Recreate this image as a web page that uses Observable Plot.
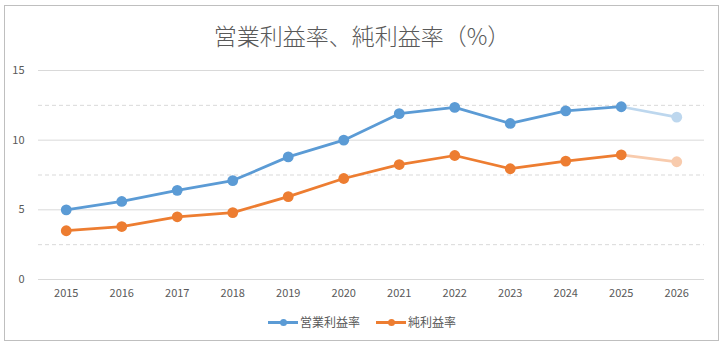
<!DOCTYPE html>
<html>
<head>
<meta charset="utf-8">
<script src="https://cdn.jsdelivr.net/npm/d3@7"></script>
<script src="https://cdn.jsdelivr.net/npm/@observablehq/plot@0.6"></script>
<style>
  html, body { margin: 0; padding: 0; background: #fff; }
  #wrap { position: relative; width: 724px; height: 348px; font-family: "Noto Sans CJK JP", "Noto Sans", sans-serif; }
  #frame { position: absolute; left: 4px; top: 5px; width: 713px; height: 334px; border: 1px solid #bfbfbf; box-sizing: content-box; }
  #title { position: absolute; left: 0; width: 724px; top: 20px; text-align: center; font-size: 23px; font-weight: 300; color: #595959; line-height: 30px; }
  #chart { position: absolute; left: 0; top: 0; }
  #legend { position: absolute; left: 0; width: 724px; top: 312px; display: flex; justify-content: center; gap: 16px; font-size: 12px; color: #595959; line-height: 20px; }
  .item { display: flex; align-items: center; }
  .sw { position: relative; width: 30px; height: 20px; margin-right: 2px; }
  .sw .ln { position: absolute; left: 0; right: 0; top: 9px; height: 3px; }
  .sw .dt { position: absolute; left: 12px; top: 7px; width: 7px; height: 7px; border-radius: 50%; }
</style>
</head>
<body>
<div id="wrap">
  <div id="frame"></div>
  <div id="chart"></div>
  <div id="title">営業利益率、純利益率（%）</div>
  <div id="legend"></div>
</div>
<script>
const years = ["2015","2016","2017","2018","2019","2020","2021","2022","2023","2024","2025","2026"];
const operatingMargin = [5.0, 5.6, 6.4, 7.1, 8.8, 10.0, 11.9, 12.35, 11.2, 12.1, 12.4, 11.65];
const netMargin = [3.5, 3.8, 4.5, 4.8, 5.95, 7.25, 8.25, 8.9, 7.95, 8.5, 8.95, 8.45];
const forecastFrom = "2025";
const seriesNames = ["営業利益率", "純利益率"];
const colors = ["#5B9BD5", "#ED7D31"];
const fadedColors = ["#BDD7EE", "#F8CBAD"];
const yTicks = [0, 5, 10, 15];
const yMinor = [2.5, 7.5, 12.5];

const rows = [];
years.forEach((y, i) => {
  rows.push({year: y, value: operatingMargin[i], s: 0, idx: i});
  rows.push({year: y, value: netMargin[i], s: 1, idx: i});
});
const fIdx = years.indexOf(forecastFrom);
const actual = rows.filter(d => d.idx <= fIdx);
const forecast = rows.filter(d => d.idx >= fIdx);
const actualPts = rows.filter(d => d.idx <= fIdx);
const forecastPts = rows.filter(d => d.idx > fIdx);

const chart = Plot.plot({
  width: 724,
  height: 348,
  marginLeft: 38,
  marginRight: 20,
  marginTop: 70,
  marginBottom: 69,
  style: {background: "transparent", fontFamily: "'Noto Sans CJK JP', 'Noto Sans', sans-serif"},
  x: {type: "point", domain: years, padding: 0.5, round: false},
  y: {domain: [0, 15]},
  marks: [
    Plot.ruleY(yMinor, {stroke: "#d9d9d9", strokeWidth: 1, strokeDasharray: "4,3"}),
    Plot.ruleY(yTicks, {stroke: "#d9d9d9", strokeWidth: 1}),
    Plot.axisY({ticks: yTicks, tickSize: 0, tickPadding: 14, fontSize: 11, fill: "#595959", label: null}),
    Plot.axisX({tickSize: 0, tickPadding: 10, fontSize: 11, fill: "#595959", label: null}),
    Plot.line(forecast, {x: "year", y: "value", z: "s", stroke: d => fadedColors[d.s], strokeWidth: 2.75}),
    Plot.line(actual, {x: "year", y: "value", z: "s", stroke: d => colors[d.s], strokeWidth: 2.75}),
    Plot.dot(forecastPts, {x: "year", y: "value", r: 5.4, fill: d => fadedColors[d.s], stroke: "none"}),
    Plot.dot(actualPts, {x: "year", y: "value", r: 5.4, fill: d => colors[d.s], stroke: "none"})
  ]
});
document.getElementById("chart").appendChild(chart);

const legend = document.getElementById("legend");
seriesNames.forEach((name, i) => {
  const item = document.createElement("div");
  item.className = "item";
  item.innerHTML = `<div class="sw"><div class="ln" style="background:${colors[i]}"></div><div class="dt" style="background:${colors[i]}"></div></div><span>${name}</span>`;
  legend.appendChild(item);
});
</script>
</body>
</html>
